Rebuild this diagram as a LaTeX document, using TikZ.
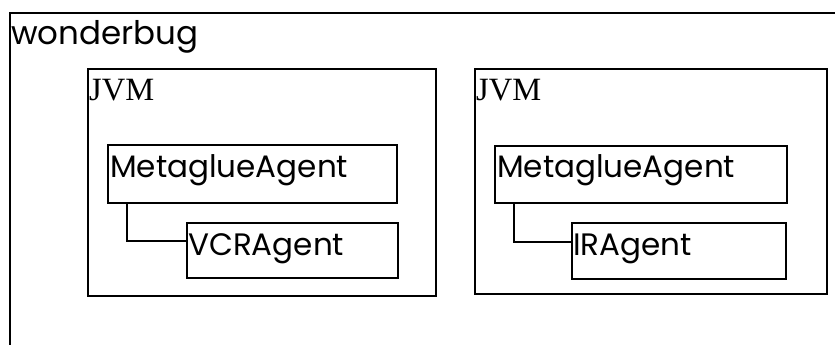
\documentclass[tikz,border=0pt]{standalone}
\usepackage{fontspec}
\setmainfont{Poppins}
\newfontfamily\jvmfont{Liberation Serif}
\usetikzlibrary{calc}
\begin{document}
\begin{tikzpicture}[x=1pt,y=-1pt,
  box/.style={draw, line width=1.4pt, rectangle, inner sep=0pt, outer sep=0pt, anchor=north west},
  lbl/.style={anchor=base west, inner sep=0pt, font=\fontsize{31}{36}\selectfont},
  jvmlbl/.style={anchor=base west, inner sep=0pt, font=\jvmfont\fontsize{32.5}{38}\selectfont},
  link/.style={draw, line width=1.4pt}]
\useasboundingbox (0,0) rectangle (835,345);
\begin{scope}
\clip (0,0) rectangle (835,345);
\node[box, minimum width=850pt, minimum height=360pt] (host) at (10,13) {};
\end{scope}
\node[lbl, font=\fontsize{32.5}{38}\selectfont] (hostname) at (11,45) {wonderbug};
% left JVM
\node[box, minimum width=348pt, minimum height=227pt] (jvm1) at (88,69) {};
\node[jvmlbl] (jvm1t) at ($(jvm1.north west)+(1,31)$) {JVM};
\node[box, minimum width=289pt, minimum height=58pt] (mg1) at (108,145) {};
\node[lbl] (mg1t) at ($(mg1.north west)+(2,32)$) {MetaglueAgent};
\node[box, minimum width=211pt, minimum height=55pt] (vcr) at (187,223) {};
\node[lbl] (vcrt) at ($(vcr.north west)+(1,32)$) {VCRAgent};
\draw[link] ($(mg1.south west)+(19,0)$) |- ($(vcr.north west)+(0,18)$);
% right JVM
\node[box, minimum width=352pt, minimum height=225pt] (jvm2) at (475,69) {};
\node[jvmlbl] (jvm2t) at ($(jvm2.north west)+(1,31)$) {JVM};
\node[box, minimum width=292pt, minimum height=57pt] (mg2) at (495,146) {};
\node[lbl] (mg2t) at ($(mg2.north west)+(2,31)$) {MetaglueAgent};
\node[box, minimum width=214pt, minimum height=56pt] (ir) at (572,223) {};
\node[lbl] (irt) at ($(ir.north west)+(1,32)$) {IRAgent};
\draw[link] ($(mg2.south west)+(19,0)$) |- ($(ir.north west)+(0,19)$);
\end{tikzpicture}
\end{document}
